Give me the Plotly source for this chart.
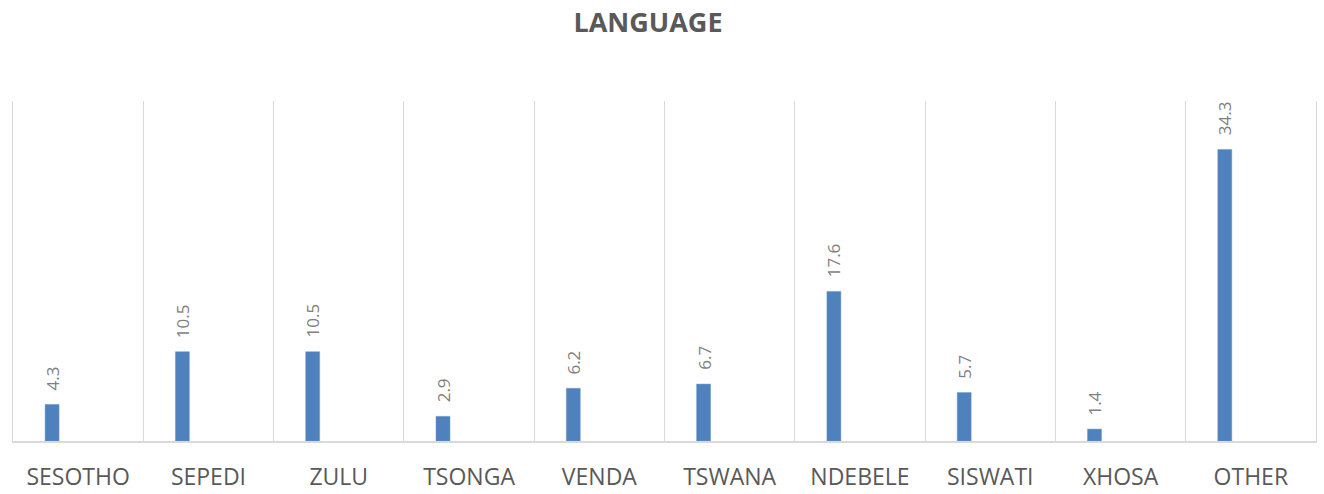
import plotly.graph_objects as go

languages = ["SESOTHO", "SEPEDI", "ZULU", "TSONGA", "VENDA", "TSWANA", "NDEBELE", "SISWATI", "XHOSA", "OTHER"]
percent = [4.3, 10.5, 10.5, 2.9, 6.2, 6.7, 17.6, 5.7, 1.4, 34.3]

BAR_W = 0.107
BAR_C = -0.2

fig = go.Figure()
fig.add_trace(go.Bar(
    x=languages, y=percent,
    width=BAR_W, offset=BAR_C - BAR_W / 2,
    marker=dict(color="#4F81BD", line=dict(color="#6A95C9", width=0.5)),
    hoverinfo="x+y",
))

for i, v in enumerate(percent):
    fig.add_annotation(
        x=i + BAR_C, y=v, xref="x", yref="y",
        text=f"{v:.1f}", textangle=-90,
        showarrow=False, yanchor="bottom", xanchor="center",
        yshift=12,
        font=dict(family="Open Sans", size=17, color="#7F7F7F"),
    )

fig.update_layout(
    width=1324, height=494,
    margin=dict(l=13, r=8, t=101, b=53, autoexpand=False),
    paper_bgcolor="white", plot_bgcolor="white",
    showlegend=False,
    title=dict(
        text="<b>LANGUAGE</b>", x=648 / 1324, xanchor="center",
        y=1 - 23 / 494, yanchor="middle",
        font=dict(family="Open Sans", size=27, color="#595959"),
    ),
    xaxis=dict(
        type="category", tickson="boundaries",
        showgrid=True, gridcolor="#D9D9D9", gridwidth=1.3,
        showline=True, linecolor="#D9D9D9", linewidth=1.5,
        ticks="", ticklabelstandoff=15,
        tickfont=dict(family="Open Sans", size=23, color="#595959"),
        automargin=False, range=[-0.5, 9.5],
    ),
    yaxis=dict(
        range=[0, 40], showticklabels=False, ticks="", showgrid=False, zeroline=False,
        showline=True, mirror=True, linecolor="#D9D9D9", linewidth=1.3,
    ),
)

fig.write_html(
    "out.html",
    config={"displayModeBar": False},
    post_script="document.body.style.margin='0';document.body.style.overflow='hidden';",
)
